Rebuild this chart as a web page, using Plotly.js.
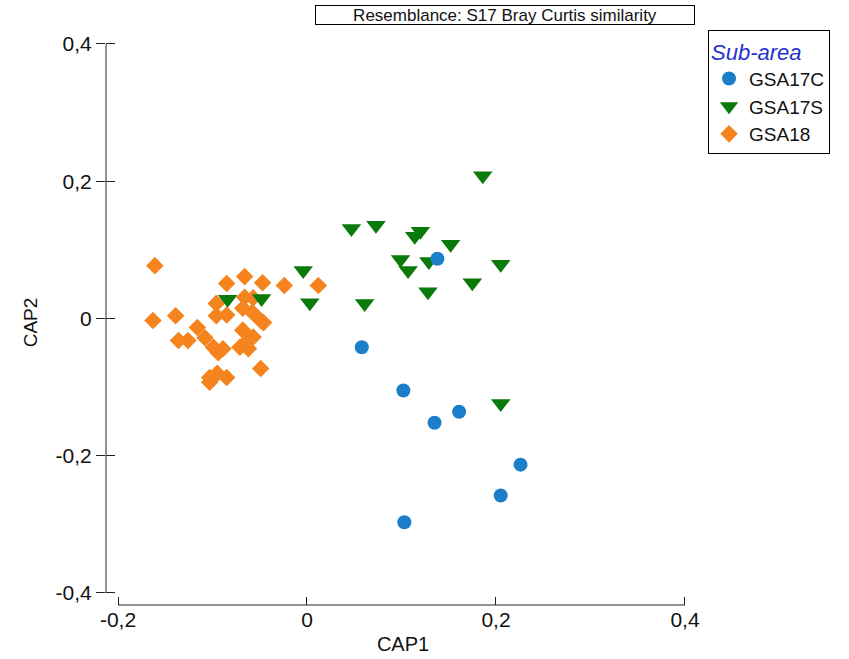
<!DOCTYPE html>
<html>
<head>
<meta charset="utf-8">
<script src="https://cdn.plot.ly/plotly-3.0.1.min.js"></script>
<style>
html,body{margin:0;padding:0;background:#fff;}
#chart{width:849px;height:659px;}
</style>
</head>
<body>
<div id="chart"></div>
<script>
// GSA17C (blue circles)
const gsa17cX = [0.058, 0.102, 0.135, 0.161, 0.226, 0.205, 0.103, 0.138];
const gsa17cY = [-0.042, -0.105, -0.152, -0.136, -0.213, -0.258, -0.297, 0.087];
// GSA17S (green down-triangles)
const gsa17sX = [0.186, 0.047, 0.073, 0.114, 0.120, 0.152, 0.099, 0.107, 0.129, 0.205, 0.175, 0.128, 0.061, 0.205, -0.084, -0.048, -0.004, 0.003];
const gsa17sY = [0.208, 0.131, 0.136, 0.120, 0.127, 0.108, 0.086, 0.070, 0.083, 0.079, 0.052, 0.039, 0.022, -0.124, 0.028, 0.029, 0.070, 0.023];
// GSA18 (orange diamonds)
const gsa18X = [-0.161, -0.066, -0.085, -0.047, -0.024, 0.012, -0.066, -0.057, -0.096, -0.068, -0.058, -0.049, -0.046, -0.096, -0.085, -0.163, -0.139, -0.116, -0.108, -0.136, -0.126, -0.068, -0.063, -0.057, -0.071, -0.062, -0.099, -0.089, -0.094, -0.049, -0.103, -0.085, -0.103, -0.095];
const gsa18Y = [0.077, 0.061, 0.051, 0.052, 0.048, 0.048, 0.031, 0.030, 0.022, 0.015, 0.009, -0.003, -0.006, 0.004, 0.005, -0.003, 0.004, -0.013, -0.028, -0.032, -0.032, -0.017, -0.032, -0.027, -0.042, -0.044, -0.042, -0.044, -0.050, -0.073, -0.086, -0.086, -0.093, -0.080];

const xTickVals = [-0.2, 0, 0.2, 0.4];
const xTickText = ['-0,2', '0', '0,2', '0,4'];
const yTickVals = [-0.4, -0.2, 0, 0.2, 0.4];
const yTickText = ['-0,4', '-0,2', '0', '0,2', '0,4'];

const FONT = 'Liberation Sans, Arial, sans-serif';

const traces = [
  {x: gsa18X, y: gsa18Y, name: 'GSA18', type: 'scatter', mode: 'markers',
   marker: {symbol: 'diamond', size: 13.5, color: '#f5841f'}},
  {x: gsa17sX, y: gsa17sY, name: 'GSA17S', type: 'scatter', mode: 'markers',
   marker: {symbol: 'triangle-down', size: 17, color: '#0a7a0a'}},
  {x: gsa17cX, y: gsa17cY, name: 'GSA17C', type: 'scatter', mode: 'markers',
   marker: {symbol: 'circle', size: 14, color: '#1a7fc8'}},
  {x: [0], y: [0], yaxis: 'y2', type: 'scatter', mode: 'markers', showlegend: false,
   hoverinfo: 'skip', marker: {opacity: 0}}
];

const layout = {
  width: 849, height: 659,
  margin: {l: 106, r: 149, t: 40, b: 54},
  paper_bgcolor: '#fff', plot_bgcolor: '#fff',
  font: {family: FONT, size: 18, color: '#111'},
  separators: ', ',
  showlegend: true,
  xaxis: {
    range: [-0.2127, 0.4159], tickvals: xTickVals, ticktext: xTickText,
    ticks: 'inside', ticklen: 8, tickcolor: '#222', tickwidth: 1,
    showgrid: false, zeroline: false, showline: false,
    tickfont: {size: 21, family: FONT},
    title: {text: 'CAP1', font: {size: 20, family: FONT}, standoff: 6}
  },
  yaxis: {
    range: [-0.4175, 0.4058], tickvals: yTickVals, ticktext: yTickText,
    ticks: 'outside', ticklen: 9, tickcolor: '#222', tickwidth: 1,
    showgrid: false, zeroline: false, showline: false,
    tickfont: {size: 21, family: FONT},
    title: {text: 'CAP2', font: {size: 19, family: FONT}, standoff: 12}
  },
  yaxis2: {
    overlaying: 'y', matches: 'y', side: 'left', tickvals: yTickVals,
    ticks: 'inside', ticklen: 9, tickcolor: '#222', tickwidth: 1,
    showticklabels: false, showgrid: false, zeroline: false, showline: false
  },
  legend: {
    x: 1.0135, y: 1.0177, xanchor: 'left', yanchor: 'top',
    traceorder: 'reversed', bordercolor: '#000', borderwidth: 1, bgcolor: '#fff',
    font: {size: 19, family: FONT, color: '#111'},
    title: {text: '<i>Sub-area</i>', font: {size: 22, family: FONT, color: '#1f2fd0'}},
    itemwidth: 30, tracegroupgap: 0
  },
  shapes: [
    {type: 'line', xref: 'paper', yref: 'y', x0: 0, x1: 0, y0: -0.4, y1: 0.4,
     line: {color: '#222', width: 1}},
    {type: 'line', xref: 'x', yref: 'paper', x0: -0.2, x1: 0.4, y0: 0, y1: 0,
     line: {color: '#222', width: 1}}
  ],
  annotations: [
    {text: 'Resemblance: S17 Bray Curtis similarity', xref: 'paper', yref: 'paper',
     x: 0.672, y: 1.045, xanchor: 'center', yanchor: 'middle', showarrow: false,
     width: 378, height: 18, align: 'center',
     font: {size: 17, family: FONT, color: '#111'},
     bordercolor: '#000', borderwidth: 1, borderpad: 0, bgcolor: '#fff'}
  ]
};

Plotly.newPlot('chart', traces, layout, {displayModeBar: false, staticPlot: true});
</script>
</body>
</html>
